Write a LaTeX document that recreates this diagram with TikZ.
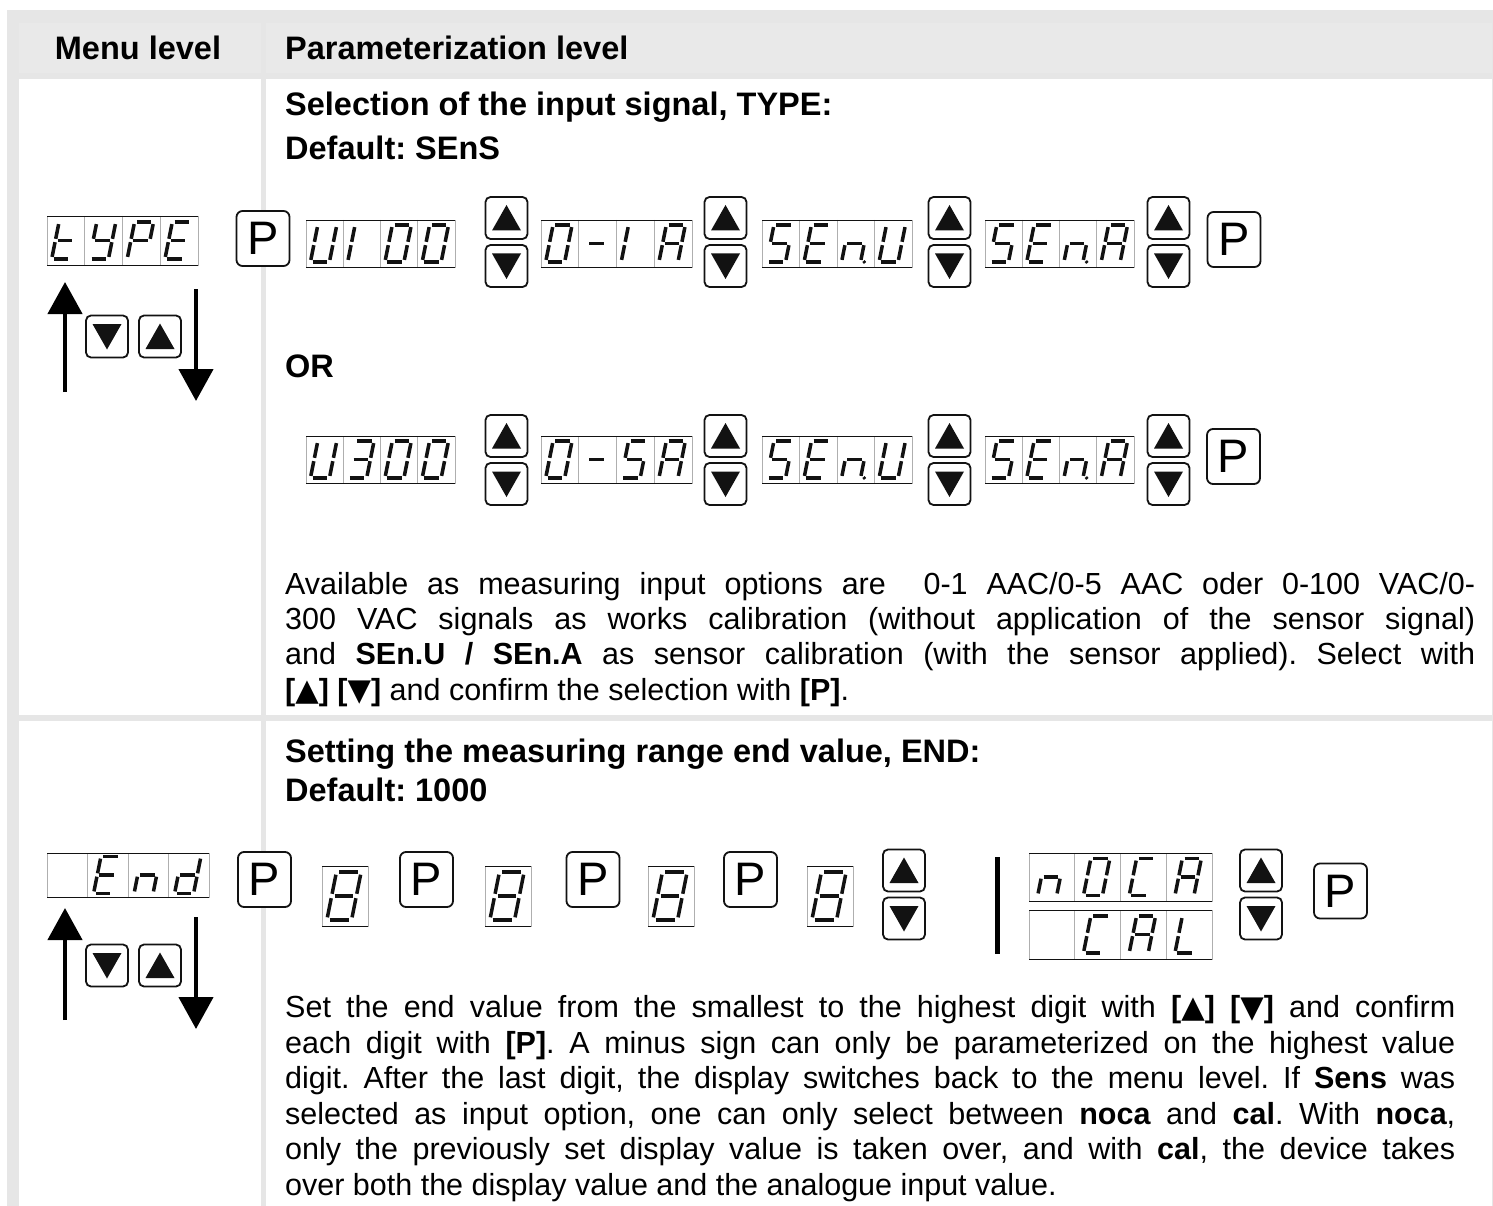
\documentclass[tikz,border=0pt]{standalone}
\usepackage{fontspec}
\setmainfont{Liberation Sans}
\newfontfamily\symfont{DejaVu Sans}
\usetikzlibrary{arrows.meta,calc}
\definecolor{bgc}{RGB}{230,230,230}
\definecolor{hdc}{RGB}{233,233,233}
\definecolor{divc}{RGB}{175,175,175}
\definecolor{ink}{RGB}{18,18,18}
\frenchspacing
\newcommand\tup{{\symfont\bfseries ▲}}
\newcommand\tdn{{\symfont\bfseries ▼}}

\def\cT{d,e,f,g}
\def\cY{b,c,d,f,g}
\def\cP{a,b,e,f,g}
\def\cE{a,d,e,f,g}
\def\cU{b,c,d,e,f}
\def\cOne{e,f}
\def\cZero{a,b,c,d,e,f}
\def\cDash{g}
\def\cA{a,b,c,e,f,g}
\def\cS{a,c,d,f,g}
\def\cN{c,e,g}
\def\cNdot{c,e,g,p}
\def\cThree{a,b,c,d,g}
\def\cD{b,c,d,e,g}
\def\cEight{a,b,c,d,e,f,g}
\def\cC{a,d,e,f}
\def\cL{d,e,f}
\def\cBlank{x}

\def\dsega{\draw[seg] (-7.3,18.5) -- (7.3,18.5);}
\def\dsegb{\draw[seg] (9.5,16.4) -- (9.5,1.7);}
\def\dsegc{\draw[seg] (9.5,-1.7) -- (9.5,-16.4);}
\def\dsegd{\draw[seg] (-7.3,-18.5) -- (7.3,-18.5);}
\def\dsege{\draw[seg] (-9.5,-1.7) -- (-9.5,-16.4);}
\def\dsegf{\draw[seg] (-9.5,16.4) -- (-9.5,1.7);}
\def\dsegg{\draw[seg] (-7.3,0) -- (7.3,0);}
\def\dsegp{\fill[ink] (13.2,-18.5) circle (1.9);}
\def\dsegx{}

\newcommand\sdig[4]{%
  \begin{scope}[shift={({#1},{#2})}, y=1pt, xslant=0.2, scale=#3]
    \foreach \s in #4 {\csname dseg\s\endcsname}
  \end{scope}}

\def\dh{47}
\newcommand\fdisp[8]{%
  \node[dispbox, minimum width=#4pt, minimum height=\dh pt] (#1) at (#2,#3) {};
  \foreach \i in {1,2,3} \draw[divc, line width=0.8pt] ({#2+\i*#4/4},#3) -- ({#2+\i*#4/4},{#3+\dh});
  \draw[ink, line width=0.9pt] (#1.north west) -- (#1.north east) (#1.south west) -- (#1.south east);
  \sdig{#2+#4/8-1}{#3+\dh/2}{1}{#5}
  \sdig{#2+3*#4/8-1}{#3+\dh/2}{1}{#6}
  \sdig{#2+5*#4/8-1}{#3+\dh/2}{1}{#7}
  \sdig{#2+7*#4/8-1}{#3+\dh/2}{1}{#8}}

\newcommand\bigdig[3]{%
  \node[dispbox, minimum width=46pt, minimum height=60pt] (#1) at (#2,#3) {};
  \draw[ink, line width=0.9pt] (#1.north west) -- (#1.north east) (#1.south west) -- (#1.south east);
  \sdig{#2+22}{#3+30}{1.3}{\cEight}}

\newcommand\upbtn[3]{%
  \node[btn] (#1) at (#2,#3) {};
  \fill[ink] ($(#1.center)+(0,-13)$) -- ($(#1.center)+(14.5,12.5)$) -- ($(#1.center)+(-14.5,12.5)$) -- cycle;}
\newcommand\dnbtn[3]{%
  \node[btn] (#1) at (#2,#3) {};
  \fill[ink] ($(#1.center)+(0,13)$) -- ($(#1.center)+(14.5,-12.5)$) -- ($(#1.center)+(-14.5,-12.5)$) -- cycle;}

\tikzset{
  seg/.style={line width=3.5pt, draw=ink, line cap=butt},
  dispbox/.style={draw=divc, line width=0.8pt, anchor=north west, inner sep=0pt, outer sep=0pt, fill=white},
  btn/.style={draw=ink, line width=1.8pt, rounded corners=5pt, fill=white, minimum width=42pt, minimum height=42pt, inner sep=0pt},
  pbtn/.style={draw=ink, line width=1.8pt, rounded corners=6pt, fill=white, minimum width=53pt, minimum height=55pt, inner sep=0pt, font=\fontsize{47}{47}\selectfont},
  hd/.style={font=\fontsize{32.5}{36}\selectfont\bfseries, anchor=base west, inner sep=0pt},
  body/.style={font=\fontsize{30.5}{35.4}\selectfont, anchor=base west, inner sep=0pt},
  menuarrow/.style={line width=4.5pt, draw=black, -{Triangle[length=32pt,width=34pt]}},
  sepbar/.style={line width=5pt, draw=black}
}

\begin{document}
\begin{tikzpicture}[x=1pt,y=-1pt]
\useasboundingbox (0,0) rectangle (1493,1206);
% background and cells
\fill[bgc] (7,10) rectangle (1493,1206);
\fill[hdc] (19,23) rectangle (261,73);
\fill[hdc] (266,23) rectangle (1491.5,73);
\fill[white] (19,79) rectangle (261,715);
\fill[white] (266,79) rectangle (1491.5,715);
\fill[white] (19,721) rectangle (261,1206);
\fill[white] (266,721) rectangle (1491.5,1206);

% headers
\node[hd, anchor=base] (menuhd) at (138,60) {Menu level};
\node[hd] (paramhd) at (285,60) {Parameterization level};

% ---------- Row 1 ----------
\node[hd] (sel) at (285,116) {Selection of the input signal, TYPE:};
\node[hd] (def1) at (285,160) {Default: SEnS};
\node[hd] (or) at (285,377) {OR};

\def\dh{49}
\fdisp{type}{47}{216}{151}{\cT}{\cY}{\cP}{\cE}
\def\dh{47}
\node[pbtn] (p1) at (263,238.5) {P};
\fdisp{u100}{306}{220}{149}{\cU}{\cOne}{\cZero}{\cZero}
\upbtn{ua1}{506.5}{218}
\dnbtn{da1}{506.5}{266}
\fdisp{r01a}{541}{220}{151}{\cZero}{\cDash}{\cOne}{\cA}
\upbtn{ua2}{725.5}{218}
\dnbtn{da2}{725.5}{266}
\fdisp{senu1}{762}{220}{150}{\cS}{\cE}{\cNdot}{\cU}
\upbtn{ua3}{949.5}{218}
\dnbtn{da3}{949.5}{266}
\fdisp{sena1}{985}{220}{149}{\cS}{\cE}{\cNdot}{\cA}
\upbtn{ua4}{1168.5}{218}
\dnbtn{da4}{1168.5}{266}
\node[pbtn] (p2) at (1234,239.5) {P};

\fdisp{u300}{306}{436}{149}{\cU}{\cThree}{\cZero}{\cZero}
\upbtn{ub1}{506.5}{436}
\dnbtn{db1}{506.5}{484}
\fdisp{r05a}{541}{436}{151}{\cZero}{\cDash}{\cS}{\cA}
\upbtn{ub2}{725.5}{436}
\dnbtn{db2}{725.5}{484}
\fdisp{senu2}{762}{436}{150}{\cS}{\cE}{\cNdot}{\cU}
\upbtn{ub3}{949.5}{436}
\dnbtn{db3}{949.5}{484}
\fdisp{sena2}{985}{436}{149}{\cS}{\cE}{\cNdot}{\cA}
\upbtn{ub4}{1168.5}{436}
\dnbtn{db4}{1168.5}{484}
\node[pbtn] (p3) at (1233.5,456.5) {P};

% menu navigation row 1
\coordinate (m1ub) at (65,392);
\coordinate (m1ut) at (65,282);
\draw[menuarrow] (m1ub) -- (m1ut);
\dnbtn{m1dn}{107}{336.5}
\upbtn{m1up}{160}{336.5}
\coordinate (m1dt) at (196,289);
\coordinate (m1db) at (196,401);
\draw[menuarrow] (m1dt) -- (m1db);

\node[body] (t1a) at (285,594) {\makebox[1190pt][s]{Available as measuring input options are\ \ 0-1 AAC/0-5 AAC oder 0-100 VAC/0-}};
\node[body] (t1b) at (285,629) {\makebox[1190pt][s]{300 VAC signals as works calibration (without application of the sensor signal)}};
\node[body] (t1c) at (285,664) {\makebox[1190pt][s]{and \textbf{SEn.U / SEn.A} as sensor calibration (with the sensor applied). Select with}};
\node[body] (t1d) at (285,700) {\textbf{[\tup] [\tdn]} and confirm the selection with \textbf{[P]}.};

% ---------- Row 2 ----------
\node[hd] (set) at (285,762) {Setting the measuring range end value, END:};
\node[hd] (def2) at (285,801) {Default: 1000};

\def\dh{44}
\fdisp{endd}{47}{853}{162}{\cBlank}{\cE}{\cN}{\cD}
\def\dh{47}
\node[pbtn] (q1) at (264.5,879.5) {P};
\bigdig{g1}{322}{866}
\node[pbtn] (q2) at (426.5,879.5) {P};
\bigdig{g2}{485}{866}
\node[pbtn] (q3) at (593,879.5) {P};
\bigdig{g3}{648}{866}
\node[pbtn] (q4) at (750.5,879.5) {P};
\bigdig{g4}{807}{866}
\upbtn{uc1}{904}{870.5}
\dnbtn{dc1}{904}{918.5}

\coordinate (sbt) at (997.5,857);
\coordinate (sbb) at (997.5,954);
\draw[sepbar] (sbt) -- (sbb);
\def\dh{48}
\fdisp{noca}{1029}{853}{183}{\cN}{\cZero}{\cC}{\cA}
\def\dh{49}
\fdisp{cal}{1029}{910}{183}{\cBlank}{\cC}{\cA}{\cL}
\def\dh{47}
\upbtn{uc2}{1261}{870.5}
\dnbtn{dc2}{1261}{918.5}
\node[pbtn] (q5) at (1340.5,891) {P};

% menu navigation row 2
\coordinate (m2ub) at (65,1020);
\coordinate (m2ut) at (65,908);
\draw[menuarrow] (m2ub) -- (m2ut);
\dnbtn{m2dn}{107}{965.5}
\upbtn{m2up}{160}{965.5}
\coordinate (m2dt) at (196,917);
\coordinate (m2db) at (196,1029);
\draw[menuarrow] (m2dt) -- (m2db);

\node[body] (t2a) at (285,1017) {\makebox[1170pt][s]{Set the end value from the smallest to the highest digit with \textbf{[\tup] [\tdn]} and confirm}};
\node[body] (t2b) at (285,1053) {\makebox[1170pt][s]{each digit with \textbf{[P]}. A minus sign can only be parameterized on the highest value}};
\node[body] (t2c) at (285,1088) {\makebox[1170pt][s]{digit. After the last digit, the display switches back to the menu level. If \textbf{Sens} was}};
\node[body] (t2d) at (285,1124) {\makebox[1170pt][s]{selected as input option, one can only select between \textbf{noca} and \textbf{cal}. With \textbf{noca},}};
\node[body] (t2e) at (285,1159) {\makebox[1170pt][s]{only the previously set display value is taken over, and with \textbf{cal}, the device takes}};
\node[body] (t2f) at (285,1195) {over both the display value and the analogue input value.};
\end{tikzpicture}
\end{document}
